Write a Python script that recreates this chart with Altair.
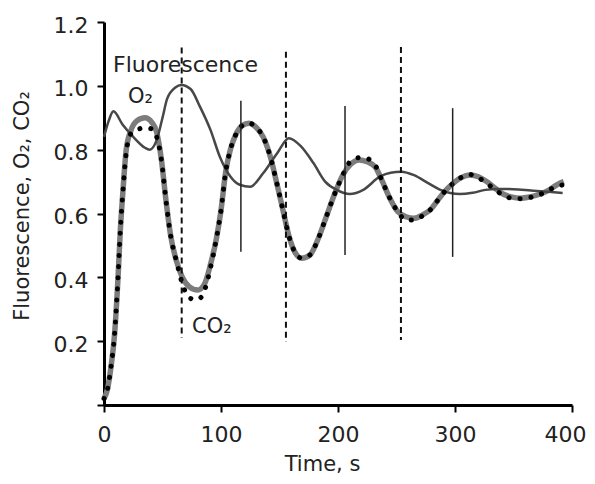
import altair as alt
import pandas as pd

# Fluorescence (thin dark line)
fl_t = [0, 4, 8, 16, 25, 35, 39, 45, 50, 54, 61, 66, 74, 82, 91, 99, 108, 116, 125, 136,
        148, 158, 168, 179, 189, 199, 210, 222, 236, 245, 254, 265, 277, 287, 296, 304,
        315, 326, 336, 350, 365, 380, 392]
fl_v = [0.84, 0.89, 0.92, 0.878, 0.84, 0.806, 0.80, 0.83, 0.90, 0.96, 0.995, 1.003, 0.99,
        0.935, 0.862, 0.778, 0.716, 0.69, 0.684, 0.726, 0.789, 0.836, 0.812, 0.758, 0.70,
        0.674, 0.661, 0.675, 0.716, 0.728, 0.731, 0.72, 0.695, 0.675, 0.664, 0.661, 0.665,
        0.674, 0.677, 0.676, 0.672, 0.668, 0.664]

# O2 (thick grey) and CO2 (black dots), same time points
gas_t = [0, 3, 6, 9, 12, 14, 16, 19, 23, 28, 35, 41, 45, 49, 53, 57, 62, 67, 73, 80,
         86, 91, 96, 100, 104, 108, 113, 118, 124, 130, 136, 142, 148, 153, 158, 163, 169,
         176, 183, 190, 197, 204, 211, 218, 225, 232, 238, 244, 251, 258, 265, 272, 279,
         285, 291, 297, 304, 313, 320, 327, 334, 341, 348, 356, 364, 373, 381, 387, 393]
o2_v = [0.02, 0.05, 0.12, 0.22, 0.40, 0.55, 0.66, 0.80, 0.86, 0.89, 0.90, 0.885, 0.855,
        0.77, 0.64, 0.53, 0.45, 0.40, 0.37, 0.36, 0.38, 0.44, 0.52, 0.61, 0.73, 0.80, 0.85,
        0.875, 0.883, 0.87, 0.84, 0.78, 0.69, 0.61, 0.53, 0.48, 0.46, 0.47, 0.52, 0.59,
        0.66, 0.72, 0.755, 0.768, 0.762, 0.745, 0.70, 0.65, 0.606, 0.59, 0.585, 0.595,
        0.612, 0.64, 0.668, 0.69, 0.71, 0.721, 0.715, 0.70, 0.68, 0.661, 0.652, 0.648,
        0.652, 0.661, 0.675, 0.69, 0.70]
co2_v = [0.02, 0.05, 0.12, 0.22, 0.40, 0.55, 0.66, 0.79, 0.85, 0.862, 0.868, 0.865, 0.84,
         0.77, 0.64, 0.53, 0.45, 0.38, 0.335, 0.33, 0.36, 0.43, 0.52, 0.61, 0.73, 0.80,
         0.85, 0.875, 0.883, 0.87, 0.84, 0.78, 0.69, 0.61, 0.53, 0.48, 0.46, 0.47, 0.52,
         0.59, 0.66, 0.72, 0.765, 0.775, 0.772, 0.75, 0.70, 0.65, 0.606, 0.58, 0.58,
         0.592, 0.612, 0.64, 0.668, 0.69, 0.71, 0.722, 0.712, 0.695, 0.675, 0.658, 0.648,
         0.646, 0.65, 0.66, 0.675, 0.685, 0.69]

# vertical markers
dash_t = [66.4, 155.5, 253.8]
dash_top = [1.12, 1.107, 1.122]
dash_bot = [0.21, 0.197, 0.204]
solid_t = [117, 206, 298]
solid_top = [0.953, 0.937, 0.93]
solid_bot = [0.48, 0.47, 0.464]

# annotations
big_label = ["Fluorescence"]
big_label_t = [7.7]
big_label_v = [1.044]
gas_labels = ["O₂", "CO₂"]
gas_label_t = [20.5, 75.2]
gas_label_v = [0.947, 0.226]

x_ticks = [0, 100, 200, 300, 400]
y_ticks = [0, 0.2, 0.4, 0.6, 0.8, 1.0, 1.2]

FONT = "DejaVu Sans"
TXT = "#222222"

x_axis = alt.Axis(values=x_ticks, title="Time, s", grid=False, domainColor="black",
                  domainWidth=3, tickColor="black", tickWidth=2, tickSize=7,
                  labelFont=FONT, labelFontSize=22, labelColor=TXT, labelPadding=12,
                  labelFlush=False, labelOverlap=False, format="d",
                  labelOffset={"condition": {"test": "datum.value === 400", "value": -7},
                               "value": 0},
                  titleFont=FONT, titleFontSize=21, titleFontWeight="normal",
                  titleColor=TXT, titleX=218, titleY=48, titleBaseline="top")
y_axis = alt.Axis(values=y_ticks, title="Fluorescence, O₂, CO₂", grid=False,
                  domainColor="black", domainWidth=3, tickColor="black", tickWidth=2,
                  tickSize=7, labelFont=FONT, labelFontSize=22, labelColor=TXT,
                  labelPadding=9, labelOffset=3, labelFlush=False, labelOverlap=False,
                  labelExpr="datum.value == 0 ? '' : format(datum.value, '.1f')",
                  titleFont=FONT, titleFontSize=21, titleFontWeight="normal",
                  titleColor=TXT, titleAngle=270, titleX=-75.5, titleY=183.5,
                  titleBaseline="alphabetic", titleAlign="center")

xs = alt.Scale(domain=[0, 400], nice=False)
ys = alt.Scale(domain=[0, 1.2], nice=False)

def X(f):
    return alt.X(f, type="quantitative", scale=xs, axis=x_axis)

def Y(f):
    return alt.Y(f, type="quantitative", scale=ys, axis=y_axis)

fl_df = pd.DataFrame({"t": fl_t, "v": fl_v})
o2_df = pd.DataFrame({"t": gas_t, "v": o2_v})
co2_df = pd.DataFrame({"t": gas_t, "v": co2_v})
dash_df = pd.DataFrame({"t": dash_t, "v": dash_top, "v2": dash_bot})
solid_df = pd.DataFrame({"t": solid_t, "v": solid_top, "v2": solid_bot})
big_df = pd.DataFrame({"t": big_label_t, "v": big_label_v, "txt": big_label})
gas_df = pd.DataFrame({"t": gas_label_t, "v": gas_label_v, "txt": gas_labels})

o2_line = alt.Chart(o2_df).mark_line(color="#7c7c7c", strokeWidth=5.5,
                                     interpolate="monotone").encode(x=X("t"), y=Y("v"))
fl_line = alt.Chart(fl_df).mark_line(color="#474747", strokeWidth=2.5,
                                     interpolate="monotone").encode(x=X("t"), y=Y("v"))
co2_line = alt.Chart(co2_df).mark_line(color="black", strokeWidth=5, strokeCap="round",
                                       strokeDash=[0.1, 11],
                                       interpolate="monotone").encode(x=X("t"), y=Y("v"))
dash_rules = alt.Chart(dash_df).mark_rule(color="#111", strokeWidth=2,
                                          strokeDash=[6, 4]).encode(
    x=X("t"), y=Y("v"), y2="v2")
solid_rules = alt.Chart(solid_df).mark_rule(color="#222", strokeWidth=1.5).encode(
    x=X("t"), y=Y("v"), y2="v2")
big_text = alt.Chart(big_df).mark_text(align="left", baseline="alphabetic", font=FONT,
                                       fontSize=22, color=TXT).encode(
    x=X("t"), y=Y("v"), text="txt:N")
gas_text = alt.Chart(gas_df).mark_text(align="left", baseline="alphabetic", font=FONT,
                                       fontSize=21, color=TXT).encode(
    x=X("t"), y=Y("v"), text="txt:N")

chart = alt.layer(o2_line, fl_line, co2_line, dash_rules, solid_rules, big_text,
                  gas_text).properties(
    width=468, height=383,
    autosize=alt.AutoSizeParams(type="none"),
    padding={"left": 96, "top": 14, "right": 15, "bottom": 71},
    background="white",
).configure_view(stroke=None)

chart.save("out.html", embed_options={"renderer": "svg", "actions": False})
